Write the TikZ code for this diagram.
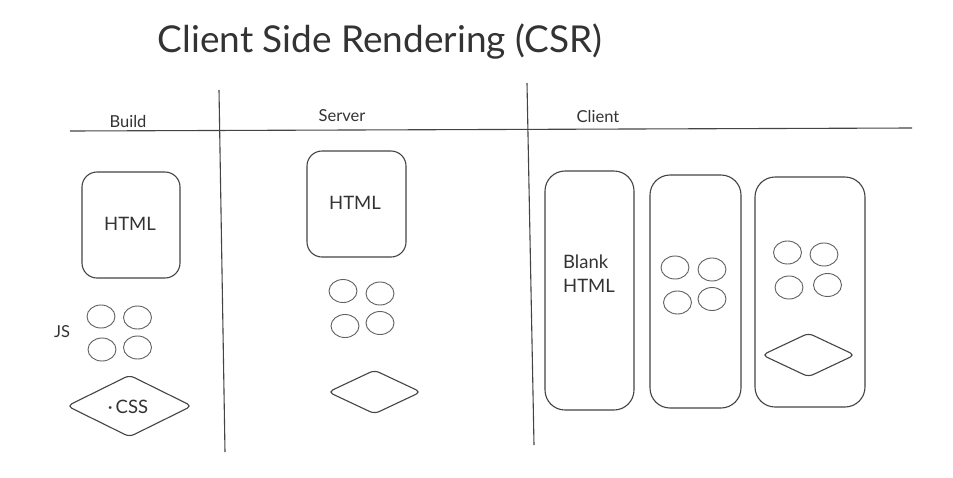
\documentclass[tikz,border=0pt]{standalone}
\usepackage{fontspec}
\setmainfont{Lato}
\usetikzlibrary{shapes.geometric}
\definecolor{ink}{HTML}{444444}
\definecolor{txt}{HTML}{333333}
\tikzset{
  divider/.style={draw=ink, line width=1.1pt},
  boxA/.style={draw=ink, line width=1.1pt, rounded corners=15pt, inner sep=0pt},
  boxC/.style={draw=ink, line width=1.1pt, rounded corners=20pt, inner sep=0pt},
  blob/.style={draw=ink!85, line width=0.9pt, ellipse, inner sep=0pt, minimum width=28pt, minimum height=23pt},
  gem/.style={draw=ink, line width=1.1pt, diamond, rounded corners=5pt, inner sep=0pt},
  lbl/.style={text=txt, font=\fontsize{16.5}{19}\selectfont, inner sep=0pt},
  big/.style={text=txt, font=\fontsize{18.5}{24}\selectfont, inner sep=0pt},
}
\begin{document}
\begin{tikzpicture}[x=1pt,y=-1pt]
\useasboundingbox[fill=white] (0,0) rectangle (953,477);
% title
\node[text=txt, font=\fontsize{37}{44}\selectfont, inner sep=0pt] (title) at (380,42) {Client Side Rendering (CSR)};
% dividers
\coordinate (hl) at (70,131); \coordinate (hr) at (912,128);
\draw[divider] (hl) -- (hr);
\coordinate (v1t) at (219,90); \coordinate (v1b) at (225,452);
\draw[divider] (v1t) -- (v1b);
\coordinate (v2t) at (527,83); \coordinate (v2b) at (534,445);
\draw[divider] (v2t) -- (v2b);
% headers
\node[lbl] (hbuild) at (128,121) {Build};
\node[lbl] (hserver) at (342,116) {Server};
\node[lbl] (hclient) at (598,116) {Client};
% Build column
\node[boxA, minimum width=98pt, minimum height=106pt] (bhtml) at (131,225) {};
\node[big] (bhtmlt) at (130,224) {HTML};
\node[blob] (bj1) at (101,316.5) {};
\node[blob] (bj2) at (137.5,317.5) {};
\node[blob] (bj3) at (102,349.5) {};
\node[blob] (bj4) at (137.5,347.5) {};
\node[lbl] (js) at (62,332) {JS};
\node[gem, minimum width=125pt, minimum height=62pt] (bcss) at (129.5,406) {};
\node[big] (bcsst) at (128,407) {\textperiodcentered\,CSS};
% Server column
\node[boxA, minimum width=99pt, minimum height=106pt] (shtml) at (356.5,204) {};
\node[big] (shtmlt) at (355,203) {HTML};
\node[blob] (sj1) at (343,291) {};
\node[blob] (sj2) at (380,293.5) {};
\node[blob] (sj3) at (345,326) {};
\node[blob] (sj4) at (380,323) {};
\node[gem, minimum width=93pt, minimum height=44pt] (scss) at (374.5,392) {};
% Client column
\node[boxC, minimum width=89pt, minimum height=239pt] (c1) at (589.5,290.5) {};
\node[big, align=left] (c1t) at (589,273.5) {Blank\\HTML};
\node[boxC, minimum width=91pt, minimum height=233pt] (c2) at (695.5,291.5) {};
\node[blob] (cj1) at (675,267.5) {};
\node[blob] (cj2) at (712,269.5) {};
\node[blob] (cj3) at (677.5,302.5) {};
\node[blob] (cj4) at (712,299) {};
\node[boxC, minimum width=110pt, minimum height=230pt] (c3) at (810,292) {};
\node[blob] (dj1) at (787.5,252.5) {};
\node[blob] (dj2) at (824,254.5) {};
\node[blob] (dj3) at (789,287.5) {};
\node[blob] (dj4) at (827.5,285) {};
\node[gem, minimum width=93pt, minimum height=44pt] (dcss) at (808.5,355) {};
\end{tikzpicture}
\end{document}
